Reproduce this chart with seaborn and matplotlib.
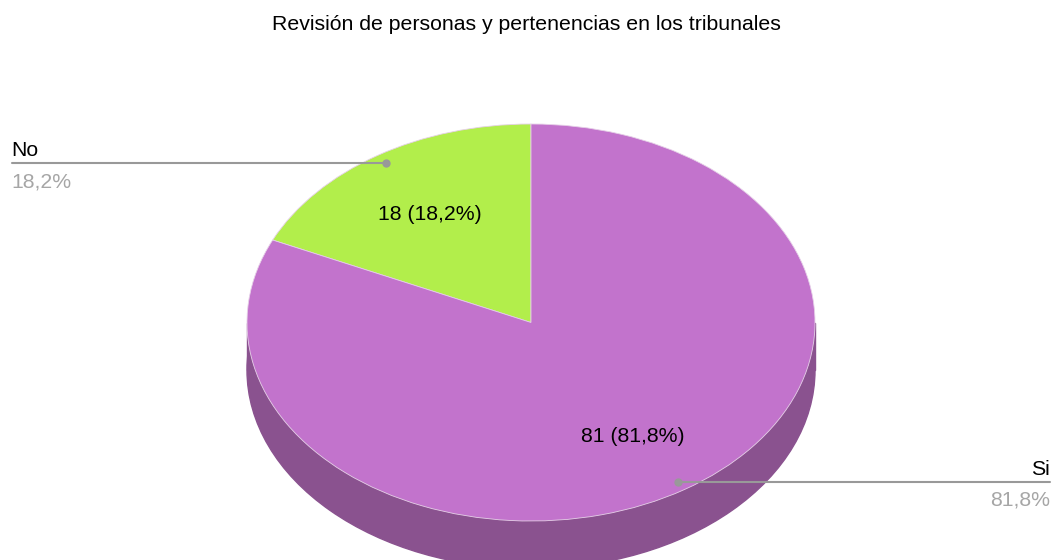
import matplotlib
matplotlib.use("Agg")
import matplotlib.pyplot as plt
import matplotlib.patches as mpatches
import seaborn as sns

categories = ["No", "Si"]
counts = [18, 81]
percent_labels = ["18,2%", "81,8%"]
title = "Revisión de personas y pertenencias en los tribunales"

sns.set_style("white")
plt.rcParams["font.family"] = ["Liberation Sans", "DejaVu Sans"]

colors = sns.color_palette(["#b2ee4b", "#c273cc"])
side_color = "#8a528f"

W, H = 1054, 560
fig = plt.figure(figsize=(W / 100, H / 100), dpi=100)

# background axes in pixel coords for title and leader labels
bg = fig.add_axes([0, 0, 1, 1])
bg.set_xlim(0, W)
bg.set_ylim(H, 0)
bg.axis("off")

# pie axes spanning the ellipse bounding box (stretched circle)
x0, x1, y0, y1 = 247, 815, 124, 521
ax = fig.add_axes([x0 / W, (H - y1) / H, (x1 - x0) / W, (y1 - y0) / H])
depth = 0.24

# 3d side
ax.add_patch(mpatches.Circle((0, -depth), 1, color=side_color, zorder=0, clip_on=False))
ax.add_patch(mpatches.Rectangle((-1, -depth), 2, depth, color=side_color, zorder=0, clip_on=False))

total = sum(counts)
wedges, texts = ax.pie(counts, colors=colors, startangle=90, counterclock=True,
                       radius=1, frame=True,
                       wedgeprops=dict(linewidth=0.6, edgecolor="#e6d0e8"))
for w in wedges:
    w.set_clip_on(False)
ax.set_xlim(-1, 1)
ax.set_ylim(-1, 1)
ax.set_aspect("auto")
ax.axis("off")

fs = 15.3
# inner value labels (pixel coords)
inner_pos = [(430, 214), (633, 436)]
for c, (px, py) in zip(counts, inner_pos):
    bg.text(px, py, f"{c} ({c / total * 100:.1f}%)".replace(".", ","),
            ha="center", va="center", fontsize=fs, color="#000000", zorder=5)
bg.set_zorder(3)
bg.patch.set_alpha(0)

# leader lines
bg.plot([12, 386], [163, 163], color="#999999", lw=1.5, zorder=4)
bg.plot([386], [163], "o", color="#999999", ms=5, zorder=4)
bg.text(11, 156, categories[0], ha="left", va="baseline", fontsize=fs, color="#000000")
bg.text(11, 188, percent_labels[0], ha="left", va="baseline", fontsize=fs, color="#a6a6a6")

bg.plot([678, 1050], [482, 482], color="#999999", lw=1.5, zorder=4)
bg.plot([678], [482], "o", color="#999999", ms=5, zorder=4)
bg.text(1050, 475, categories[1], ha="right", va="baseline", fontsize=fs, color="#000000")
bg.text(1050, 506, percent_labels[1], ha="right", va="baseline", fontsize=fs, color="#a6a6a6")

bg.text(526, 24, title, ha="center", va="center", fontsize=fs, color="#000000")

fig.savefig("out.png", dpi=100)
